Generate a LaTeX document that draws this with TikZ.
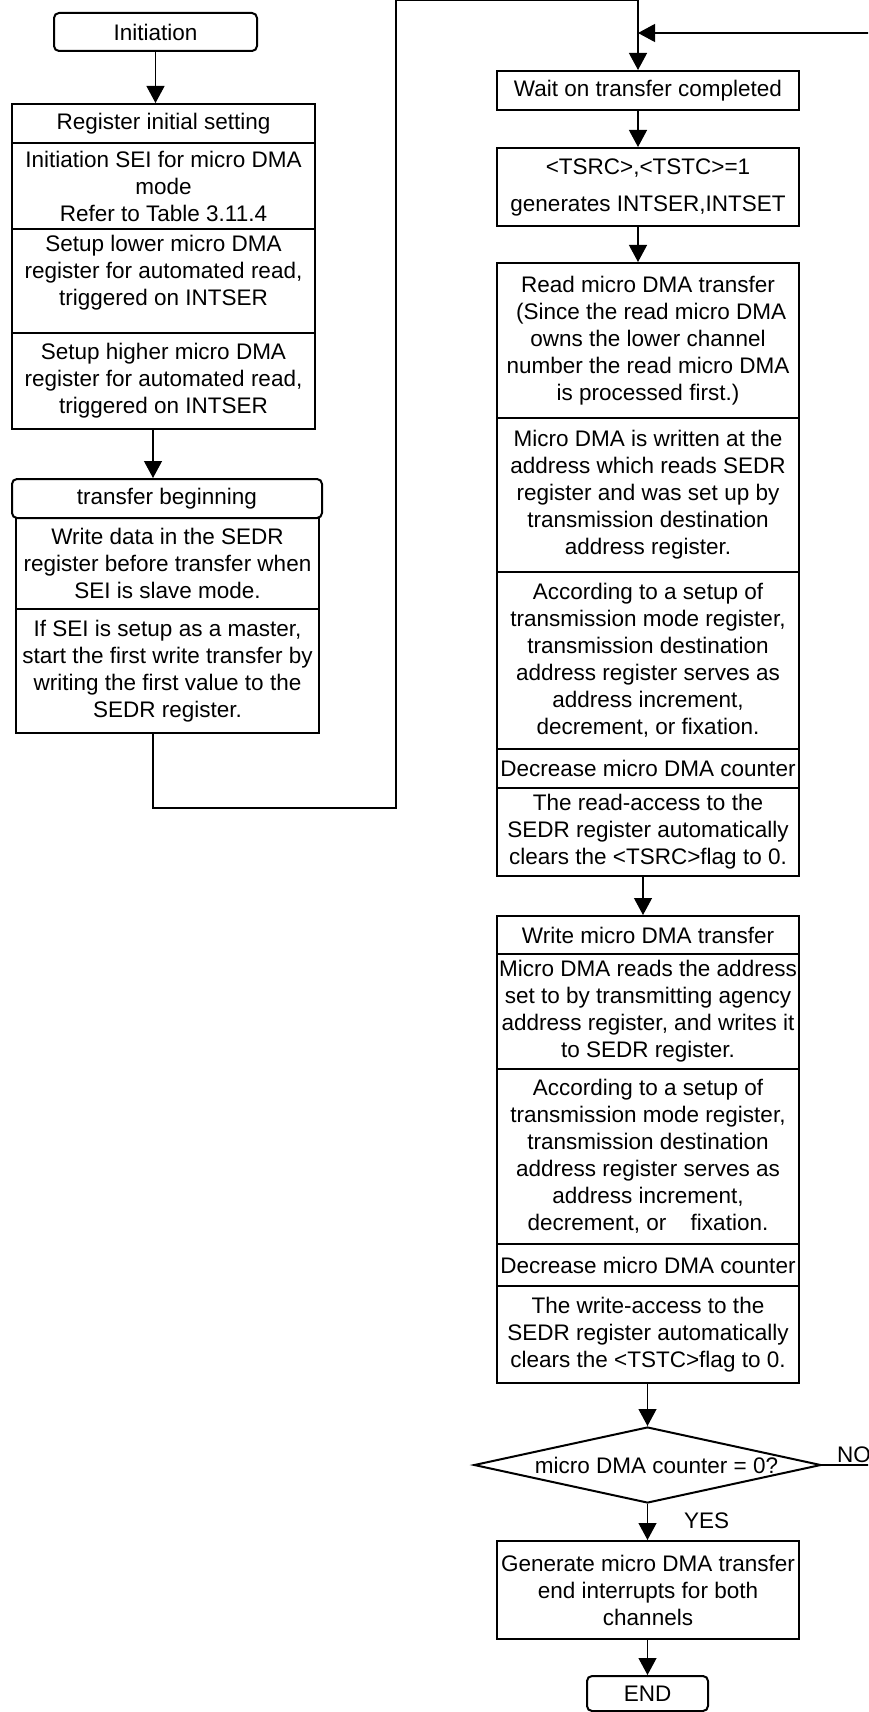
\documentclass[tikz,border=0pt]{standalone}
\usepackage{fontspec}
\setmainfont{Liberation Sans}
\usetikzlibrary{arrows.meta,shapes.geometric}

\begin{document}
\begin{tikzpicture}[x=0.5pt, y=-0.5pt,
    every node/.style={font=\fontsize{11.25}{13.5}\selectfont},
    box/.style={draw, line width=1pt, align=center, inner sep=0pt, anchor=north, minimum width=151.5pt},
    term/.style={box, rounded corners=2.5pt},
    flow/.style={-{Triangle[length=8.5pt,width=9pt]}, line width=0.6pt}]
    % page frame, the loop lines run off its right edge
    \clip (0,0) rectangle (868,1712);

    % left column: register setup
    \node[term, minimum width=101.5pt, minimum height=19pt] (init) at (155.5,12) {Initiation};
    \node[box, minimum height=19.5pt] (reg) at (163.5,103) {Register initial setting};
    \node[box, minimum height=43pt] (sei) at (163.5,142) {Initiation SEI for micro DMA\\mode\\Refer to Table 3.11.4};
    \node[box, minimum height=52pt, text depth=10.5pt] (lower) at (163.5,228) {Setup lower micro DMA\\register for automated read,\\triggered on INTSER};
    \node[box, minimum height=48pt] (higher) at (163.5,332) {Setup higher micro DMA\\register for automated read,\\triggered on INTSER};

    % left column: start of transfer
    \node[term, minimum width=155pt, minimum height=19.5pt] (begin) at (167,478) {transfer beginning};
    \node[box, minimum height=45.5pt] (slave) at (167.5,517) {Write data in the SEDR\\register before transfer when\\SEI is slave mode.};
    \node[box, minimum height=62pt] (master) at (167.5,608) {If SEI is setup as a master,\\start the first write transfer by\\writing the first value to the\\SEDR register.};

    % right column: read transfer
    \node[box, minimum width=151pt, minimum height=19.5pt] (wait) at (648,70) {Wait on transfer completed};
    \node[box, minimum width=151pt, minimum height=39pt] (flag) at (648,147) {<TSRC>,<TSTC>=1\\[5pt]generates INTSER,INTSET};
    \node[box, minimum width=151pt, minimum height=77.5pt] (rd) at (648,262) {Read micro DMA transfer\\~(Since the read micro DMA\\owns the lower channel\\number the read micro DMA\\is processed first.)};
    \node[box, minimum width=151pt, minimum height=77pt] (rdaddr) at (648,417) {Micro DMA is written at the\\address which reads SEDR\\register and was set up by\\transmission destination\\address register.};
    \node[box, minimum width=151pt, minimum height=88.5pt] (rdmode) at (648,571) {According to a setup of\\transmission mode register,\\transmission destination\\address register serves as\\address increment,\\decrement, or fixation.};
    \node[box, minimum width=151pt, minimum height=19.5pt] (rddec) at (648,748) {Decrease micro DMA counter};
    \node[box, minimum width=151pt, minimum height=44pt] (rdclr) at (648,787) {The read-access to the\\SEDR register automatically\\clears the <TSRC>flag to 0.};

    % right column: write transfer
    \node[box, minimum width=151pt, minimum height=19pt] (wr) at (648,915) {Write micro DMA transfer};
    \node[box, minimum width=151pt, minimum height=57.5pt] (wraddr) at (648,953) {Micro DMA reads the address\\set to by transmitting agency\\address register, and writes it\\to SEDR register.};
    \node[box, minimum width=151pt, minimum height=87.5pt] (wrmode) at (648,1068) {According to a setup of\\transmission mode register,\\transmission destination\\address register serves as\\address increment,\\decrement, or\hspace{9pt} fixation.};
    \node[box, minimum width=151pt, minimum height=21pt] (wrdec) at (648,1243) {Decrease micro DMA counter};
    \node[box, minimum width=151pt, minimum height=48.5pt] (wrclr) at (648,1285) {The write-access to the\\SEDR register automatically\\clears the <TSTC>flag to 0.};

    % counter test and end
    \node[draw, diamond, line width=1pt, inner sep=0pt, minimum width=173.5pt, minimum height=38pt] (test) at (647.5,1465) {\makebox[0pt]{\hspace{9pt}micro DMA counter = 0?}};
    \node[anchor=base west] (no) at (830,1462) {NO};
    \node[anchor=base west] (yes) at (677,1528) {YES};
    \node[box, minimum width=151pt, minimum height=49pt] (gen) at (648,1540) {Generate micro DMA transfer\\end interrupts for both\\channels};
    \node[term, minimum width=60.5pt, minimum height=17.5pt] (endbox) at (647.5,1675) {END};

    % bends of the connectors
    \coordinate (spine) at (153,808);
    \coordinate (turn) at (396,0.5);
    \coordinate (entry) at (638,33);
    \coordinate (edge) at (880,33);

    \draw[flow] (init.south) -- (init.south |- reg.north);
    \draw[flow] (higher.south -| spine) -- (begin.north -| spine);
    \draw[flow] (master.south -| spine) -- (spine) -| (turn) -| (wait.north -| entry);
    \draw[flow] (test.east) -| (edge) -- (entry);
    \draw[flow] (wait.south -| entry) -- (flag.north -| entry);
    \draw[flow] (flag.south -| entry) -- (rd.north -| entry);
    \draw[flow] ([xshift=-2.5pt]rdclr.south) -- ([xshift=-2.5pt]wr.north);
    \draw[flow] (test.north |- wrclr.south) -- (test.north);
    \draw[flow] (test.south) -- (test.south |- gen.north);
    \draw[flow] (endbox.north |- gen.south) -- (endbox.north);
\end{tikzpicture}
\end{document}
